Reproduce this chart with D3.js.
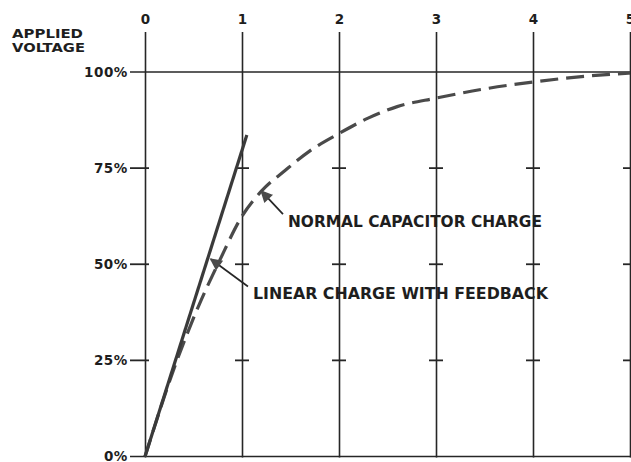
<!DOCTYPE html>
<html><head><meta charset="utf-8">
<script src="https://cdn.jsdelivr.net/npm/d3@7"></script>
<style>
html,body{margin:0;padding:0;background:#fff;}
svg{display:block;}
text{font-family:"DejaVu Sans",sans-serif;font-weight:bold;fill:#1e1e1e;}
</style></head><body>
<script>
// ---- data ----
const xTicks = [0, 1, 2, 3, 4, 5];
const yTicks = [0, 0.25, 0.5, 0.75, 1];
const yTickLabels = ["0%", "25%", "50%", "75%", "100%"];
const yAxisTitle = ["APPLIED", "VOLTAGE"];
// linear charge with feedback (solid)
const linearT = [0, 1.05];
const linearV = [0, 0.836];
// normal capacitor charge (dashed)
const normalT = [0, 0.33, 0.55, 0.77, 1.0, 1.2, 1.45, 1.7, 2.0, 2.3, 2.6, 3.0, 3.5, 4.0, 4.5, 5.0];
const normalV = [0, 0.25, 0.39, 0.51, 0.625, 0.69, 0.745, 0.795, 0.84, 0.88, 0.91, 0.932, 0.956, 0.974, 0.988, 0.997];
// annotations
const annText = ["NORMAL CAPACITOR CHARGE", "LINEAR CHARGE WITH FEEDBACK"];
const annTip = [[1.2, 0.69], [0.68, 0.513]];
const annPos = [[1.474, 0.612], [1.113, 0.424]];

const W = 631, H = 462;
const svg = d3.select("body").append("svg").attr("width", W).attr("height", H);
const x = d3.scaleLinear().domain([0, 5]).range([145, 630]);
const y = d3.scaleLinear().domain([0, 1]).range([456.5, 72]);
const ink = "#262626", grey = "#4a4a4a";

// vertical grid + top labels
const gx = svg.append("g").attr("transform", "translate(0,32)")
  .call(d3.axisTop(x).tickValues(xTicks).tickFormat(d3.format("d")).tickSize(-(y(0) - 32 + 1)).tickPadding(8));
gx.select(".domain").remove();
gx.selectAll("line").attr("stroke", ink).attr("stroke-width", 1.6);
gx.selectAll("text").attr("font-size", 13.5).attr("fill", "#1e1e1e").attr("font-family", "DejaVu Sans").attr("font-weight", "bold");

// horizontal lines at 0% and 100%
svg.selectAll("line.h").data([0, 1]).join("line").attr("class", "h")
  .attr("x1", 130).attr("x2", W).attr("y1", d => y(d)).attr("y2", d => y(d))
  .attr("stroke", ink).attr("stroke-width", 1.6);

// cross ticks
const crosses = [];
xTicks.forEach(t => [0.25, 0.5, 0.75].forEach(v => crosses.push([t, v])));
svg.selectAll("line.c").data(crosses).join("line").attr("class", "c")
  .attr("x1", d => x(d[0]) - (d[0] === 0 ? 15 : 7)).attr("x2", d => x(d[0]) + (d[0] === 0 ? 4 : 7))
  .attr("y1", d => y(d[1])).attr("y2", d => y(d[1]))
  .attr("stroke", ink).attr("stroke-width", 1.8);

// y labels
const gy = svg.append("g").attr("transform", "translate(145,0)")
  .call(d3.axisLeft(y).tickValues(yTicks).tickFormat((d, i) => yTickLabels[i]).tickSize(0).tickPadding(17));
gy.select(".domain").remove();
gy.selectAll("text").attr("font-size", 13.5).attr("letter-spacing", 0.6).attr("fill", "#1e1e1e")
  .attr("font-family", "DejaVu Sans").attr("font-weight", "bold");

// axis title
svg.append("text").attr("x", 12).attr("y", 38).attr("font-size", 13).attr("textLength", 71).attr("lengthAdjust", "spacingAndGlyphs").text(yAxisTitle[0]);
svg.append("text").attr("x", 12).attr("y", 52).attr("font-size", 13).attr("textLength", 73).attr("lengthAdjust", "spacingAndGlyphs").text(yAxisTitle[1]);

// curves
svg.append("path").datum(normalT.map((t, i) => [t, normalV[i]]))
  .attr("d", d3.line().x(d => x(d[0])).y(d => y(d[1])).curve(d3.curveMonotoneX)).attr("fill", "none")
  .attr("stroke", grey).attr("stroke-width", 3.2).attr("stroke-dasharray", "18,8");
svg.append("path").datum(linearT.map((t, i) => [t, linearV[i]]))
  .attr("d", d3.line().x(d => x(d[0])).y(d => y(d[1]))).attr("fill", "none")
  .attr("stroke", "#3a3a3a").attr("stroke-width", 3.2);

// annotations
annText.forEach((txt, i) => {
  const tx = x(annTip[i][0]), ty = y(annTip[i][1]);
  const px = x(annPos[i][0]), py = y(annPos[i][1]);
  const sx = px - 5, sy = py - 7;
  const ang = Math.atan2(sy - ty, sx - tx);
  const L = 11, a = 0.45;
  svg.append("line").attr("x1", sx).attr("y1", sy).attr("x2", tx).attr("y2", ty)
    .attr("stroke", ink).attr("stroke-width", 1.7);
  svg.append("path")
    .attr("d", `M${tx + L * Math.cos(ang - a)},${ty + L * Math.sin(ang - a)}L${tx},${ty}L${tx + L * Math.cos(ang + a)},${ty + L * Math.sin(ang + a)}Z`)
    .attr("fill", grey).attr("stroke", grey).attr("stroke-width", 1.5);
  svg.append("text").attr("x", px).attr("y", py).attr("dy", "0.36em").attr("font-size", 15.5)
    .attr("textLength", i === 0 ? 254 : 295).attr("lengthAdjust", "spacingAndGlyphs").text(txt);
});
</script>
</body></html>
